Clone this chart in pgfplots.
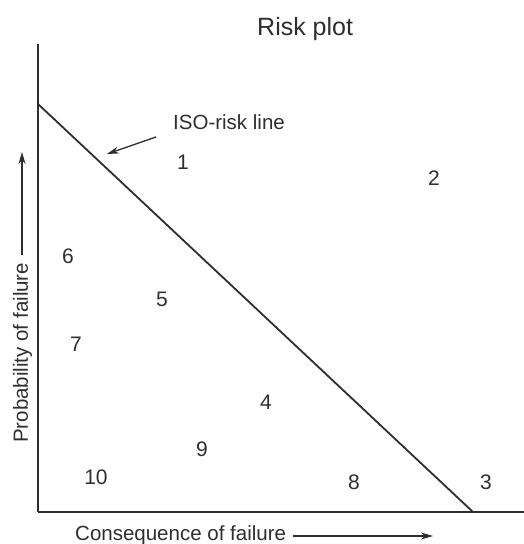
\documentclass[border=0pt]{standalone}
\usepackage{pgfplots}
\pgfplotsset{compat=1.18}
\usetikzlibrary{arrows.meta}
\usepackage{fontspec}
\setmainfont{Liberation Sans}
\definecolor{ink}{HTML}{2E2E2E}
\begin{document}
\begin{tikzpicture}
\begin{axis}[
  scale only axis, width=486pt, height=468pt,
  xmin=0, xmax=486, ymin=0, ymax=468,
  axis lines=left, axis line style={-, ink, line width=1.8pt},
  xtick=\empty, ytick=\empty,
  clip=false,
]
\coordinate (bl) at (-38,-32);
\coordinate (tr) at (486,512);
\addplot[ink, line width=1.8pt] coordinates {(0,408) (435,0)};
\addplot[only marks, mark=none, nodes near coords, point meta=explicit symbolic,
  nodes near coords style={anchor=center, text=ink, inner sep=0pt, font=\fontsize{21}{25}\selectfont}]
  table[meta=label] {
x y label
145 350 1
396 334 2
448 30 3
228 110 4
124 213 5
30 256 6
38 168 7
316 30 8
164 63 9
58 35 10
};
\node[anchor=base west, inner sep=0pt, text=ink, font=\fontsize{25}{30}\selectfont] at (219,476) {Risk plot};
\node[anchor=base west, inner sep=0pt, text=ink, font=\fontsize{20.5}{24}\selectfont] at (135,382) {ISO-risk line};
\draw[ink, line width=1.3pt, -{Stealth[length=12pt,width=7pt]}] (118,375) -- (69,358);
\node[anchor=base west, inner sep=0pt, rotate=90, text=ink, font=\fontsize{20.5}{24}\selectfont] at (-10,69) {Probability of failure};
\draw[ink, line width=1.3pt, -{Stealth[length=12pt,width=7pt]}] (-16,257) -- (-16,360);
\node[anchor=base west, inner sep=0pt, text=ink, font=\fontsize{20.5}{24}\selectfont] at (37,-29) {Consequence of failure};
\draw[ink, line width=1.3pt, -{Stealth[length=12pt,width=7pt]}] (255,-24) -- (395,-24);
\end{axis}
\pgfresetboundingbox
\path[use as bounding box] (bl) rectangle (tr);
\end{tikzpicture}
\end{document}
